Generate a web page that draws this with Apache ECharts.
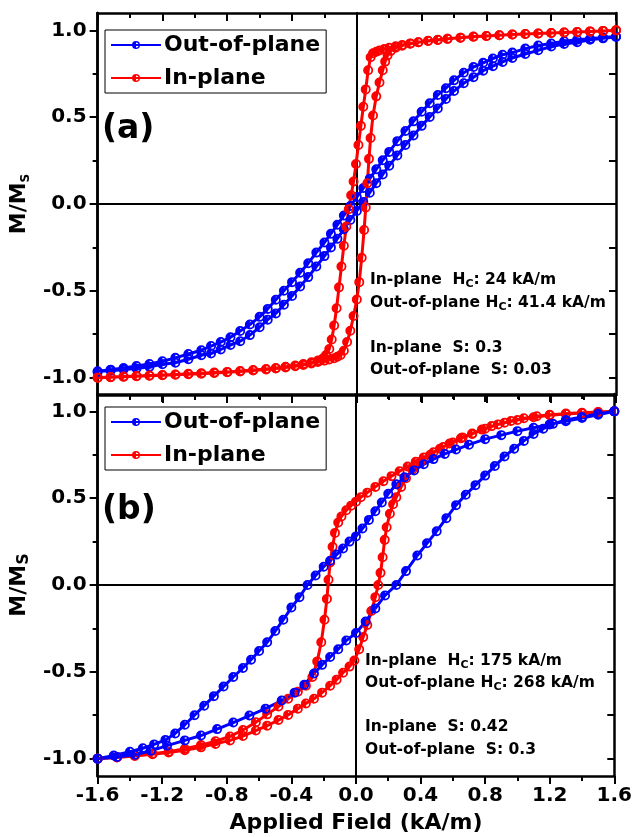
<!DOCTYPE html>
<html>
<head>
<meta charset="utf-8">
<script src="https://cdn.jsdelivr.net/npm/echarts@6/dist/echarts.min.js"></script>
<style>
  html, body { margin: 0; padding: 0; background: #fff; }
  #chart { width: 635px; height: 837px; }
</style>
</head>
<body>
<div id="chart"></div>
<script>
// [H, M/Ms] pairs, one array per loop branch
const aOutDown = [[1.6,0.965],[1.52,0.959],[1.44,0.952],[1.36,0.946],[1.28,0.937],[1.2,0.924],[1.12,0.913],[1.04,0.895],[0.96,0.872],[0.9,0.86],[0.84,0.838],[0.78,0.813],[0.72,0.789],[0.66,0.756],[0.6,0.712],[0.55,0.667],[0.5,0.628],[0.45,0.58],[0.4,0.531],[0.35,0.476],[0.3,0.42],[0.25,0.362],[0.2,0.3],[0.16,0.252],[0.12,0.2],[0.08,0.146],[0.04,0.092],[0,0.04],[-0.04,-0.012],[-0.08,-0.066],[-0.12,-0.12],[-0.16,-0.171],[-0.2,-0.222],[-0.25,-0.28],[-0.3,-0.341],[-0.35,-0.396],[-0.4,-0.45],[-0.45,-0.5],[-0.5,-0.551],[-0.55,-0.604],[-0.6,-0.65],[-0.66,-0.694],[-0.72,-0.731],[-0.78,-0.768],[-0.84,-0.795],[-0.9,-0.818],[-0.96,-0.842],[-1.04,-0.864],[-1.12,-0.886],[-1.2,-0.906],[-1.28,-0.921],[-1.36,-0.933],[-1.44,-0.945],[-1.52,-0.954],[-1.6,-0.963]];
const aOutUp = [[-1.6,-0.968],[-1.52,-0.96],[-1.44,-0.953],[-1.36,-0.947],[-1.28,-0.938],[-1.2,-0.923],[-1.12,-0.914],[-1.04,-0.894],[-0.96,-0.871],[-0.9,-0.861],[-0.84,-0.838],[-0.78,-0.812],[-0.72,-0.79],[-0.66,-0.755],[-0.6,-0.71],[-0.55,-0.666],[-0.5,-0.63],[-0.45,-0.58],[-0.4,-0.53],[-0.35,-0.475],[-0.3,-0.421],[-0.25,-0.36],[-0.2,-0.3],[-0.16,-0.25],[-0.12,-0.2],[-0.08,-0.145],[-0.04,-0.092],[0,-0.04],[0.04,0.012],[0.08,0.065],[0.12,0.12],[0.16,0.17],[0.2,0.221],[0.25,0.28],[0.3,0.34],[0.35,0.395],[0.4,0.45],[0.45,0.501],[0.5,0.55],[0.55,0.605],[0.6,0.651],[0.66,0.695],[0.72,0.73],[0.78,0.768],[0.84,0.794],[0.9,0.818],[0.96,0.841],[1.04,0.864],[1.12,0.885],[1.2,0.907],[1.28,0.922],[1.36,0.932],[1.44,0.946],[1.52,0.954],[1.6,0.962]];
const aInDown = [[1.6,1.0],[1.52,0.997],[1.44,0.994],[1.36,0.991],[1.28,0.988],[1.2,0.985],[1.12,0.982],[1.04,0.979],[0.96,0.976],[0.88,0.972],[0.8,0.968],[0.72,0.964],[0.64,0.958],[0.56,0.952],[0.5,0.946],[0.44,0.94],[0.38,0.932],[0.33,0.925],[0.28,0.916],[0.24,0.908],[0.2,0.9],[0.17,0.892],[0.14,0.884],[0.12,0.877],[0.1,0.868],[0.085,0.845],[0.07,0.77],[0.055,0.66],[0.04,0.56],[0.025,0.45],[0.01,0.34],[-0.005,0.23],[-0.02,0.13],[-0.035,0.05],[-0.05,-0.03],[-0.065,-0.13],[-0.08,-0.24],[-0.095,-0.36],[-0.11,-0.48],[-0.125,-0.6],[-0.14,-0.7],[-0.155,-0.78],[-0.17,-0.835],[-0.19,-0.87],[-0.21,-0.89],[-0.24,-0.902],[-0.28,-0.912],[-0.33,-0.922],[-0.38,-0.93],[-0.44,-0.937],[-0.5,-0.944],[-0.56,-0.95],[-0.64,-0.956],[-0.72,-0.962],[-0.8,-0.967],[-0.88,-0.971],[-0.96,-0.975],[-1.04,-0.978],[-1.12,-0.982],[-1.2,-0.985],[-1.28,-0.988],[-1.36,-0.991],[-1.44,-0.994],[-1.52,-0.997],[-1.6,-1.0]];
const aInUp = [[-1.6,-1.0],[-1.52,-0.998],[-1.44,-0.995],[-1.36,-0.992],[-1.28,-0.989],[-1.2,-0.986],[-1.12,-0.983],[-1.04,-0.98],[-0.96,-0.977],[-0.88,-0.973],[-0.8,-0.969],[-0.72,-0.965],[-0.64,-0.959],[-0.56,-0.953],[-0.5,-0.947],[-0.44,-0.941],[-0.38,-0.934],[-0.33,-0.927],[-0.28,-0.918],[-0.24,-0.91],[-0.2,-0.902],[-0.17,-0.895],[-0.14,-0.888],[-0.12,-0.88],[-0.1,-0.87],[-0.08,-0.845],[-0.06,-0.795],[-0.04,-0.73],[-0.02,-0.645],[0,-0.55],[0.015,-0.45],[0.03,-0.31],[0.045,-0.15],[0.055,-0.02],[0.065,0.12],[0.075,0.26],[0.085,0.38],[0.1,0.51],[0.12,0.62],[0.14,0.7],[0.16,0.77],[0.175,0.82],[0.19,0.856],[0.21,0.882],[0.24,0.9],[0.28,0.912],[0.33,0.923],[0.38,0.932],[0.44,0.939],[0.5,0.945],[0.56,0.951],[0.64,0.957],[0.72,0.963],[0.8,0.968],[0.88,0.972],[0.96,0.976],[1.04,0.979],[1.12,0.982],[1.2,0.985],[1.28,0.988],[1.36,0.991],[1.44,0.994],[1.52,0.997],[1.6,1.0]];

const bInDown = [[1.6,1.0],[1.5,0.995],[1.4,0.99],[1.3,0.985],[1.2,0.978],[1.1,0.966],[1.0,0.95],[0.92,0.934],[0.84,0.915],[0.78,0.895],[0.72,0.873],[0.66,0.85],[0.6,0.82],[0.54,0.795],[0.48,0.765],[0.42,0.735],[0.37,0.71],[0.32,0.682],[0.27,0.655],[0.22,0.627],[0.17,0.598],[0.12,0.565],[0.07,0.532],[0.03,0.505],[0,0.48],[-0.03,0.457],[-0.06,0.43],[-0.09,0.395],[-0.11,0.36],[-0.13,0.3],[-0.145,0.22],[-0.16,0.13],[-0.17,0.03],[-0.18,-0.08],[-0.195,-0.2],[-0.215,-0.33],[-0.24,-0.44],[-0.27,-0.53],[-0.31,-0.58],[-0.36,-0.615],[-0.42,-0.655],[-0.48,-0.7],[-0.55,-0.745],[-0.62,-0.79],[-0.7,-0.835],[-0.78,-0.872],[-0.87,-0.9],[-0.96,-0.922],[-1.06,-0.943],[-1.16,-0.96],[-1.26,-0.972],[-1.37,-0.982],[-1.48,-0.992],[-1.6,-1.0]];
const bInUp = [[-1.6,-1.0],[-1.48,-0.993],[-1.37,-0.985],[-1.26,-0.975],[-1.16,-0.965],[-1.06,-0.952],[-0.96,-0.935],[-0.87,-0.915],[-0.78,-0.895],[-0.7,-0.87],[-0.62,-0.838],[-0.55,-0.81],[-0.48,-0.778],[-0.42,-0.748],[-0.36,-0.712],[-0.31,-0.682],[-0.26,-0.655],[-0.21,-0.62],[-0.16,-0.58],[-0.12,-0.545],[-0.08,-0.505],[-0.04,-0.47],[-0.01,-0.435],[0.02,-0.37],[0.045,-0.3],[0.07,-0.23],[0.095,-0.15],[0.12,-0.07],[0.138,0],[0.152,0.07],[0.165,0.16],[0.178,0.26],[0.19,0.333],[0.21,0.41],[0.23,0.465],[0.25,0.505],[0.28,0.565],[0.31,0.615],[0.35,0.665],[0.4,0.71],[0.46,0.75],[0.52,0.785],[0.58,0.815],[0.65,0.845],[0.72,0.87],[0.8,0.9],[0.88,0.925],[0.96,0.945],[1.04,0.96],[1.12,0.972],[1.2,0.98],[1.3,0.987],[1.4,0.992],[1.5,0.996],[1.6,1.0]];
const bOutDown = [[1.6,1.0],[1.5,0.98],[1.4,0.962],[1.3,0.943],[1.2,0.925],[1.1,0.906],[1.0,0.886],[0.9,0.863],[0.8,0.84],[0.7,0.808],[0.62,0.78],[0.55,0.755],[0.48,0.725],[0.42,0.695],[0.36,0.66],[0.3,0.62],[0.25,0.58],[0.2,0.525],[0.16,0.475],[0.12,0.425],[0.08,0.375],[0.04,0.325],[0,0.28],[-0.04,0.25],[-0.08,0.21],[-0.12,0.175],[-0.16,0.14],[-0.2,0.105],[-0.25,0.055],[-0.3,0],[-0.35,-0.07],[-0.4,-0.13],[-0.45,-0.2],[-0.5,-0.265],[-0.55,-0.33],[-0.6,-0.38],[-0.65,-0.43],[-0.7,-0.478],[-0.76,-0.53],[-0.82,-0.585],[-0.88,-0.64],[-0.94,-0.695],[-1.0,-0.75],[-1.06,-0.805],[-1.12,-0.855],[-1.18,-0.892],[-1.25,-0.918],[-1.32,-0.94],[-1.4,-0.96],[-1.5,-0.982],[-1.6,-1.0]];
const bOutUp = [[-1.6,-1.0],[-1.48,-0.99],[-1.37,-0.978],[-1.27,-0.955],[-1.17,-0.925],[-1.06,-0.895],[-0.96,-0.867],[-0.86,-0.83],[-0.76,-0.792],[-0.66,-0.752],[-0.56,-0.712],[-0.46,-0.665],[-0.38,-0.62],[-0.32,-0.575],[-0.26,-0.51],[-0.21,-0.46],[-0.16,-0.415],[-0.11,-0.37],[-0.06,-0.32],[0,-0.276],[0.06,-0.21],[0.12,-0.135],[0.18,-0.06],[0.25,0],[0.31,0.08],[0.38,0.17],[0.44,0.24],[0.5,0.31],[0.56,0.385],[0.62,0.46],[0.68,0.52],[0.74,0.575],[0.8,0.63],[0.86,0.685],[0.92,0.74],[0.98,0.785],[1.04,0.83],[1.1,0.87],[1.16,0.9],[1.22,0.928],[1.3,0.95],[1.4,0.968],[1.5,0.986],[1.6,1.0]];

const seriesNames = ['Out-of-plane', 'In-plane'];
const yMajor = [-1, -0.5, 0, 0.5, 1];
const yMinor = [-0.75, -0.25, 0.25, 0.75];
const yAll = [-1, -0.75, -0.5, -0.25, 0, 0.25, 0.5, 0.75, 1];
const notesA = [['In-plane  H', 'C', ': 24 kA/m'], ['Out-of-plane H', 'C', ': 41.4 kA/m'], ['In-plane  S: 0.3'], ['Out-of-plane  S: 0.03']];
const notesB = [['In-plane  H', 'C', ': 175 kA/m'], ['Out-of-plane H', 'C', ': 268 kA/m'], ['In-plane  S: 0.42'], ['Out-of-plane  S: 0.3']];

const FONT = "'DejaVu Sans', sans-serif";
const BLUE = '#0000ff';
const RED = '#ff0000';
// left half filled, right half open ring
const HALF = 'path://M10,0 A10,10 0 0,0 10,20 L10,0 Z M10,0 A10,10 0 0,1 10,20 L10,16.4 A6.4,6.4 0 0,0 10,3.6 Z';

const chart = echarts.init(document.getElementById('chart'));

const grids = [
  { left: 95, right: 19, top: 13, height: 382 },
  { left: 95, right: 19, top: 394, height: 382 }
];

function xAxes(g, withLabels) {
  const base = { type: 'value', gridIndex: g, min: -1.6, max: 1.6, interval: 0.4 };
  const line = { show: true, onZero: false, lineStyle: { color: '#000', width: 2.5 } };
  return [
    Object.assign({}, base, {
      position: 'bottom',
      axisLine: line,
      axisTick: { show: true, length: 8, lineStyle: { color: '#000', width: 2 } },
      minorTick: { show: true, splitNumber: 2, length: 5, lineStyle: { color: '#000', width: 2 } },
      splitLine: { show: false },
      axisLabel: withLabels ? {
        show: true, margin: 10, color: '#000', fontFamily: FONT, fontWeight: 'bold', fontSize: 20,
        formatter: v => v.toFixed(1)
      } : { show: false },
      name: withLabels ? 'Applied Field (kA/m)' : '',
      nameLocation: 'middle',
      nameGap: 36,
      nameTextStyle: { color: '#000', fontFamily: FONT, fontWeight: 'bold', fontSize: 22 }
    }),
    Object.assign({}, base, {
      position: 'top',
      axisLine: line,
      axisTick: { show: true, inside: true, length: 8, lineStyle: { color: '#000', width: 2 } },
      minorTick: { show: true, splitNumber: 2, length: 5, lineStyle: { color: '#000', width: 2 } },
      splitLine: { show: false },
      axisLabel: { show: false }
    }),
    Object.assign({}, base, {
      position: 'bottom',
      axisLine: { show: true, onZero: true, onZeroAxisIndex: g * 4, lineStyle: { color: '#000', width: 2 } },
      axisTick: { show: false },
      splitLine: { show: false },
      axisLabel: { show: false }
    })
  ];
}

function yAxes(g, subSize) {
  const base = { type: 'value', gridIndex: g, min: -1.1, max: 1.1 };
  const line = { show: true, onZero: false, lineStyle: { color: '#000', width: 2.5 } };
  return [
    Object.assign({}, base, {
      position: 'left',
      axisLine: line,
      axisTick: { show: true, length: 8, customValues: yMajor, lineStyle: { color: '#000', width: 2 } },
      splitLine: { show: false },
      axisLabel: {
        show: true, margin: 11, color: '#000', fontFamily: FONT, fontWeight: 'bold', fontSize: 20,
        customValues: yMajor, formatter: v => v.toFixed(1)
      },
      name: '{m|M/M}{s|S}',
      nameLocation: 'middle',
      nameGap: 64,
      nameTextStyle: {
        rich: {
          m: { fontFamily: FONT, fontWeight: 'bold', fontSize: 22, lineHeight: 26, color: '#000' },
          s: { fontFamily: FONT, fontWeight: 'bold', fontSize: subSize, lineHeight: subSize, verticalAlign: 'bottom', color: '#000' }
        }
      }
    }),
    Object.assign({}, base, {
      position: 'left',
      axisLine: line,
      axisTick: { show: true, length: 5, customValues: yMinor, lineStyle: { color: '#000', width: 2 } },
      splitLine: { show: false },
      axisLabel: { show: false }
    }),
    Object.assign({}, base, {
      position: 'right',
      axisLine: line,
      axisTick: { show: true, inside: true, length: 7, customValues: yAll, lineStyle: { color: '#000', width: 2 } },
      splitLine: { show: false },
      axisLabel: { show: false }
    }),
    Object.assign({}, base, {
      position: 'left',
      axisLine: { show: true, onZero: true, onZeroAxisIndex: g * 3, lineStyle: { color: '#000', width: 2 } },
      axisTick: { show: false },
      splitLine: { show: false },
      axisLabel: { show: false }
    })
  ];
}

function loop(name, color, down, up, g) {
  return {
    type: 'line',
    name: name,
    xAxisIndex: g * 3,
    yAxisIndex: g * 4,
    data: down.concat(up),
    color: color,
    symbol: HALF,
    symbolKeepAspect: true,
    symbolSize: 10,
    showSymbol: true,
    showAllSymbol: true,
    lineStyle: { width: 3, color: color },
    itemStyle: { color: color },
    emphasis: { disabled: true },
    animation: false
  };
}

function legend(top) {
  return {
    orient: 'vertical',
    left: 105,
    top: top,
    data: seriesNames,
    selectedMode: false,
    itemWidth: 50,
    itemHeight: 10,
    itemGap: 9,
    padding: [3, 6, 3, 5],
    borderColor: '#000',
    borderWidth: 1,
    textStyle: { color: '#000', fontFamily: FONT, fontWeight: 'bold', fontSize: 22, lineHeight: 24, padding: [0, 0, 0, -2] }
  };
}

function noteText(parts, x, y) {
  const text = parts.length === 3
    ? '{t|' + parts[0] + '}{s|' + parts[1] + '}{t|' + parts[2] + '}'
    : '{t|' + parts[0] + '}';
  return {
    type: 'text',
    left: x,
    top: y,
    style: {
      text: text,
      rich: {
        t: { fontFamily: FONT, fontWeight: 'bold', fontSize: 15.5, lineHeight: 20, fill: '#000' },
        s: { fontFamily: FONT, fontWeight: 'bold', fontSize: 11, lineHeight: 11, verticalAlign: 'bottom', fill: '#000' }
      }
    }
  };
}

function panelLabel(text, x, y) {
  return {
    type: 'text',
    left: x,
    top: y,
    style: { text: text, fontFamily: FONT, fontWeight: 'bold', fontSize: 33, fill: '#000' }
  };
}

const noteRowsA = [272, 295, 340, 362];
const noteRowsB = [653, 675, 719, 742];

chart.setOption({
  backgroundColor: '#fff',
  animation: false,
  grid: grids,
  xAxis: xAxes(0, false).concat(xAxes(1, true)),
  yAxis: yAxes(0, 12).concat(yAxes(1, 16)),
  legend: [legend(30), legend(407)],
  series: [
    loop('Out-of-plane', BLUE, aOutDown, aOutUp, 0),
    loop('In-plane', RED, aInDown, aInUp, 0),
    loop('In-plane', RED, bInDown, bInUp, 1),
    loop('Out-of-plane', BLUE, bOutDown, bOutUp, 1)
  ],
  graphic: [
    panelLabel('(a)', 102, 113),
    panelLabel('(b)', 102, 494)
  ].concat(
    notesA.map((p, i) => noteText(p, 370, noteRowsA[i])),
    notesB.map((p, i) => noteText(p, 365, noteRowsB[i]))
  )
});
</script>
</body>
</html>
